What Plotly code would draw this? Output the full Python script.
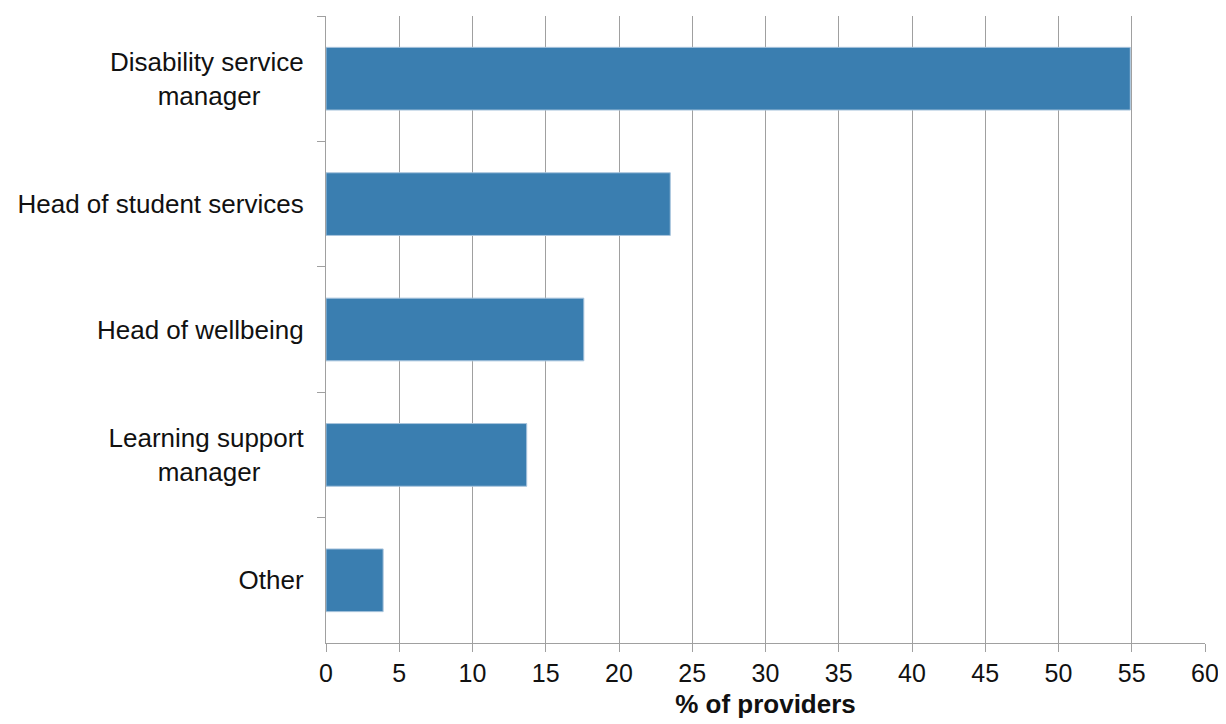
import plotly.graph_objects as go

NB = "\u00a0"
categories = ["Disability service<br>manager" + NB * 6, "Head of student services", "Head of wellbeing",
              "Learning support<br>manager" + NB * 6, "Other"]
values = [54.9, 23.5, 17.6, 13.7, 3.9]
x_ticks = list(range(0, 61, 5))

fig = go.Figure(go.Bar(
    x=values, y=categories, orientation="h",
    marker=dict(color="#3a7eb0", line=dict(color="#a9c5dd", width=1)),
))

fig.update_layout(
    width=1226, height=724,
    margin=dict(l=318, r=29, t=8, b=89),
    plot_bgcolor="white", paper_bgcolor="white",
    bargap=0.5,
    showlegend=False,
    font=dict(family="Liberation Sans, Arial, sans-serif", size=25, color="#111111"),
)
fig.update_xaxes(
    range=[0, 60], tickvals=x_ticks, ticktext=[str(v) for v in x_ticks],
    showgrid=True, gridcolor="#a0a0a0", gridwidth=1.3,
    showline=True, linecolor="#a0a0a0", linewidth=1.3,
    ticks="outside", ticklen=8, tickcolor="#a0a0a0", tickwidth=1.3,
    zeroline=False, automargin=False, tickfont=dict(size=25),
    title=dict(text="<b>% of providers</b>", standoff=8, font=dict(size=26)),
)
fig.update_yaxes(
    categoryorder="array", categoryarray=categories,
    autorange="reversed", automargin=False,
    showline=True, linecolor="#a0a0a0", linewidth=1.3,
    ticks="outside", tickson="boundaries", ticklen=8, tickcolor="#a0a0a0", tickwidth=1.3,
    showgrid=False, ticklabelstandoff=16, tickfont=dict(size=26),
)

fig.write_html("out.html")
